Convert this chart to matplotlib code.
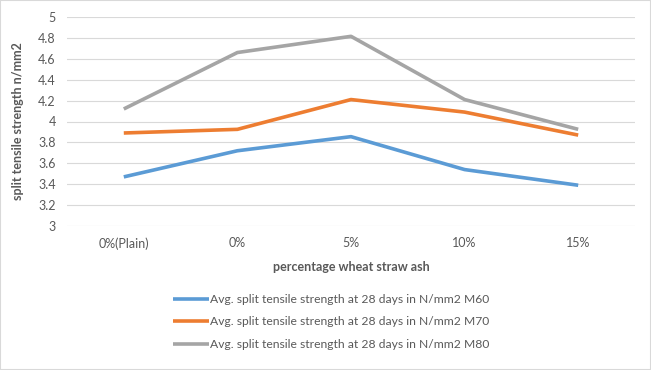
import numpy as np
import matplotlib
matplotlib.use("Agg")
import matplotlib.pyplot as plt
from matplotlib.patches import Rectangle

plt.rcParams['font.family'] = ['Lato', 'DejaVu Sans']

categories = ["0%(Plain)", "0%", "5%", "10%", "15%"]
m60 = [3.47, 3.72, 3.855, 3.54, 3.39]
m70 = [3.89, 3.925, 4.21, 4.09, 3.87]
m80 = [4.12, 4.66, 4.815, 4.21, 3.925]
labels = [
    "Avg. split tensile strength at 28 days in N/mm2 M60",
    "Avg. split tensile strength at 28 days in N/mm2 M70",
    "Avg. split tensile strength at 28 days in N/mm2 M80",
]
colors = ["#5B9BD5", "#ED7D31", "#A5A5A5"]
txt = "#595959"

fig = plt.figure(figsize=(6.51, 3.70), dpi=100)
ax = fig.add_axes([67 / 651, 1 - 226 / 370, (635 - 67) / 651, (226 - 17) / 370])

x = np.arange(len(categories))
lines = []
for vals, c, lab in zip([m60, m70, m80], colors, labels):
    ln, = ax.plot(x, vals, color=c, lw=2.6, label=lab, solid_capstyle="butt")
    lines.append(ln)

ax.set_xlim(-0.5, len(categories) - 0.5)
ax.set_ylim(3, 5)
ax.set_yticks(np.arange(3, 5.01, 0.2))
ax.set_yticklabels([f"{v:g}" for v in np.round(np.arange(3, 5.01, 0.2), 1)])
ax.set_xticks(x)
ax.set_xticklabels(categories)
ax.tick_params(length=0, colors=txt, labelsize=9, pad=8)
ax.tick_params(axis="y", pad=8)
ax.grid(axis="y", color="#D9D9D9", lw=0.8)
ax.set_axisbelow(True)
for s in ax.spines.values():
    s.set_visible(False)

ax.set_xlabel("percentage wheat straw ash", color=txt, fontsize=9, fontweight="bold", labelpad=8)
ax.set_ylabel("split tensile strength n/mm2", color=txt, fontsize=9, fontweight="bold")
ax.yaxis.set_label_coords(-0.075, 0.5)

fig.legend(handles=lines, loc="upper left", bbox_to_anchor=(162 / 651, 1 - 283 / 370),
           frameon=False, fontsize=8.7, labelcolor=txt, handlelength=3.0, handletextpad=0.1,
           labelspacing=0.95)

fig.patches.append(Rectangle((0, 0), 1, 1, transform=fig.transFigure, fill=False,
                             edgecolor="#D9D9D9", lw=1.5))

fig.savefig("out.png", dpi=100)
